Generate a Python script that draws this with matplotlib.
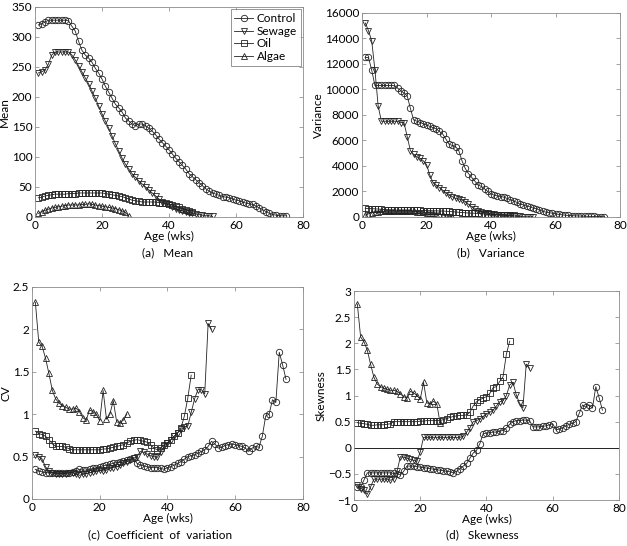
import matplotlib
matplotlib.use('Agg')
import matplotlib.pyplot as plt
import numpy as np

plt.rcParams['font.family'] = ['Lato', 'DejaVu Sans']
plt.rcParams['font.size'] = 8.5

# ages (weeks) for each group
age_control = list(range(1, 76))
age_sewage = list(range(1, 54))
age_oil = list(range(1, 48))
age_algae = list(range(1, 29))
age_algae_skew = list(range(1, 27))

mean_control = [320, 322, 325, 328, 328, 328, 328, 328, 328, 327,
                318, 310, 293, 278, 270, 265, 258, 248, 240, 230,
                218, 208, 198, 188, 182, 175, 165, 160, 155, 152,
                155, 155, 152, 148, 143, 137, 130, 124, 118, 112,
                105, 98, 92, 86, 80, 72, 67, 62, 57, 52,
                47, 43, 40, 38, 36, 34, 33, 32, 30, 28,
                27, 25, 23, 22, 21, 18, 15, 12, 9, 6,
                4, 3, 2, 2, 2]
mean_sewage = [240, 242, 245, 255, 270, 275, 275, 275, 275, 275,
               270, 262, 252, 242, 232, 222, 210, 198, 185, 172,
               160, 148, 135, 122, 110, 98, 88, 80, 72, 66,
               60, 55, 50, 45, 40, 35, 30, 25, 22, 20,
               17, 14, 12, 10, 8, 7, 6, 5, 4, 3,
               2, 2, 1]
mean_oil = [32, 33, 35, 36, 37, 38, 38, 38, 38, 39,
            39, 39, 40, 40, 40, 40, 40, 40, 40, 40,
            39, 38, 37, 36, 35, 34, 32, 30, 28, 27,
            26, 25, 25, 25, 25, 25, 24, 24, 23, 22,
            20, 18, 16, 14, 12, 10, 8]
mean_algae = [6, 9, 11, 13, 15, 16, 17, 18, 19, 20,
              20, 20, 20, 21, 21, 22, 21, 20, 19, 18,
              17, 16, 15, 14, 12, 10, 8, 1]

var_control = [12500, 12500, 11500, 10300, 10300, 10300, 10300, 10300, 10300, 10300,
               10100, 9900, 9700, 9500, 8500, 7600, 7500, 7400, 7300, 7200,
               7100, 7000, 6900, 6700, 6500, 6100, 5700, 5600, 5500, 5200,
               4400, 3800, 3400, 3100, 2800, 2500, 2400, 2200, 2000, 1800,
               1700, 1650, 1600, 1550, 1450, 1350, 1250, 1150, 1000, 950,
               850, 800, 700, 650, 550, 450, 380, 330, 300, 250,
               200, 170, 140, 120, 100, 90, 80, 70, 60, 50,
               45, 40, 35, 30, 30]
var_sewage = [15200, 14600, 13800, 11500, 8700, 7500, 7500, 7500, 7500, 7500,
              7500, 7400, 7400, 6300, 5200, 4900, 4700, 4600, 4400, 4100,
              3300, 2700, 2500, 2300, 2100, 1900, 1700, 1600, 1450, 1400,
              1350, 1200, 1000, 800, 600, 450, 400, 350, 300, 250,
              200, 180, 160, 140, 120, 100, 80, 60, 40, 30,
              20, 10, 5]
var_oil = [680, 660, 650, 640, 620, 600, 580, 560, 550, 540,
           530, 525, 520, 520, 520, 520, 515, 510, 505, 500,
           495, 490, 480, 470, 460, 450, 430, 410, 390, 370,
           350, 330, 310, 300, 290, 280, 260, 240, 220, 200,
           190, 180, 170, 160, 150, 140, 130]
var_algae = [150, 250, 320, 380, 420, 440, 450, 460, 460, 460,
             460, 460, 460, 460, 450, 440, 420, 400, 380, 350,
             320, 290, 250, 200, 150, 100, 60, 1]

cv_control = [0.35, 0.33, 0.32, 0.31, 0.31, 0.31, 0.31, 0.31, 0.31, 0.31,
              0.31, 0.32, 0.33, 0.35, 0.34, 0.34, 0.35, 0.36, 0.37, 0.38,
              0.39, 0.40, 0.41, 0.42, 0.43, 0.44, 0.45, 0.46, 0.47, 0.48,
              0.42, 0.40, 0.39, 0.38, 0.37, 0.37, 0.37, 0.36, 0.35, 0.37,
              0.38, 0.40, 0.42, 0.44, 0.47, 0.50, 0.51, 0.52, 0.54, 0.56,
              0.58, 0.62, 0.68, 0.65, 0.60, 0.61, 0.63, 0.64, 0.65, 0.64,
              0.63, 0.62, 0.60, 0.56, 0.60, 0.62, 0.61, 0.74, 0.98, 1.00,
              1.17, 1.14, 1.73, 1.58, 1.41]
cv_sewage = [0.52, 0.50, 0.47, 0.38, 0.33, 0.31, 0.30, 0.30, 0.30, 0.30,
             0.31, 0.31, 0.30, 0.28, 0.29, 0.30, 0.31, 0.32, 0.33, 0.34,
             0.33, 0.34, 0.36, 0.37, 0.38, 0.40, 0.42, 0.44, 0.46, 0.48,
             0.50, 0.56, 0.55, 0.53, 0.51, 0.50, 0.49, 0.55, 0.62, 0.66,
             0.70, 0.74, 0.78, 0.82, 0.85, 0.86, 1.02, 1.18, 1.29, 1.29,
             1.24, 2.07, 2.00]
cv_oil = [0.80, 0.77, 0.76, 0.74, 0.70, 0.65, 0.62, 0.62, 0.62, 0.61,
          0.59, 0.58, 0.58, 0.58, 0.58, 0.58, 0.58, 0.58, 0.58, 0.58,
          0.59, 0.59, 0.60, 0.61, 0.62, 0.63, 0.64, 0.66, 0.68, 0.69,
          0.70, 0.69, 0.68, 0.67, 0.64, 0.60, 0.58, 0.60, 0.64, 0.66,
          0.70, 0.74, 0.78, 0.84, 0.98, 1.19, 1.46]
cv_algae = [2.32, 1.85, 1.80, 1.66, 1.48, 1.28, 1.18, 1.13, 1.10, 1.08,
            1.06, 1.06, 1.07, 1.03, 0.96, 0.93, 1.05, 1.03, 1.00, 0.92,
            1.28, 0.94, 1.00, 1.16, 0.91, 0.90, 0.93, 1.00]

skew_control = [-0.75, -0.75, -0.62, -0.48, -0.48, -0.48, -0.48, -0.48, -0.48, -0.48,
                -0.48, -0.49, -0.50, -0.52, -0.45, -0.35, -0.35, -0.35, -0.36, -0.37,
                -0.38, -0.39, -0.40, -0.41, -0.42, -0.43, -0.44, -0.45, -0.46, -0.48,
                -0.45, -0.40, -0.35, -0.30, -0.20, -0.10, -0.05, 0.08, 0.27, 0.28,
                0.29, 0.30, 0.30, 0.32, 0.33, 0.38, 0.45, 0.50, 0.52, 0.52,
                0.53, 0.53, 0.52, 0.40, 0.40, 0.40, 0.41, 0.42, 0.44, 0.46,
                0.34, 0.36, 0.38, 0.42, 0.45, 0.47, 0.50, 0.66, 0.82, 0.78,
                0.82, 0.76, 1.17, 0.96, 0.72]
skew_sewage = [-0.72, -0.78, -0.80, -0.89, -0.75, -0.60, -0.60, -0.60, -0.60, -0.60,
               -0.62, -0.60, -0.45, -0.17, -0.18, -0.20, -0.22, -0.24, -0.26, -0.08,
               0.20, 0.20, 0.20, 0.20, 0.20, 0.20, 0.20, 0.20, 0.20, 0.20,
               0.20, 0.20, 0.22, 0.30, 0.38, 0.50, 0.52, 0.55, 0.60, 0.65,
               0.68, 0.72, 0.80, 0.88, 0.90, 1.00, 1.20, 1.25, 1.01, 0.85,
               0.76, 1.60, 1.52]
skew_oil = [0.48, 0.47, 0.46, 0.45, 0.43, 0.43, 0.44, 0.44, 0.44, 0.45,
            0.46, 0.50, 0.50, 0.50, 0.50, 0.50, 0.50, 0.50, 0.50, 0.51,
            0.51, 0.52, 0.52, 0.52, 0.52, 0.52, 0.54, 0.56, 0.58, 0.60,
            0.61, 0.62, 0.62, 0.63, 0.68, 0.80, 0.88, 0.92, 0.95, 0.98,
            1.04, 1.15, 1.17, 1.27, 1.36, 1.79, 2.04]
skew_algae = [2.75, 2.12, 2.03, 1.87, 1.60, 1.35, 1.22, 1.17, 1.14, 1.12,
              1.10, 1.10, 1.08, 1.03, 0.98, 0.95, 1.08, 1.05, 1.00, 0.93,
              1.25, 0.86, 0.84, 0.89, 0.84, 0.47]

line_kw = dict(color='#222222', linewidth=0.6, markersize=4.6,
               markerfacecolor='none', markeredgewidth=0.6)


def style_axes(ax):
    ax.tick_params(direction='in', length=3, width=0.5, top=True, right=True,
                   color='0.5', labelsize=8.5, pad=2)
    for s in ax.spines.values():
        s.set_color('0.55')
        s.set_linewidth(0.6)
    ax.set_xlim(0, 80)
    ax.set_xticks([0, 20, 40, 60, 80])
    ax.set_xlabel('Age (wks)', labelpad=0)


def plot_groups(ax, data):
    for x, y, m, lab in data:
        ax.plot(x, y, marker=m, label=lab, **line_kw)


fig = plt.figure(figsize=(6.27, 5.46), dpi=100)

ax_a = fig.add_axes([0.0558, 0.6026, 0.4274, 0.3846])
ax_b = fig.add_axes([0.5774, 0.6026, 0.4115, 0.3741])
ax_c = fig.add_axes([0.0510, 0.0861, 0.4322, 0.3883])
ax_d = fig.add_axes([0.5646, 0.0842, 0.4226, 0.3828])

# (a) mean
plot_groups(ax_a, [(age_control, mean_control, 'o', 'Control'),
                   (age_sewage, mean_sewage, 'v', 'Sewage'),
                   (age_oil, mean_oil, 's', 'Oil'),
                   (age_algae, mean_algae, '^', 'Algae')])
style_axes(ax_a)
ax_a.set_ylim(0, 350)
ax_a.set_yticks(range(0, 351, 50))
ax_a.set_ylabel('Mean', labelpad=1)
leg = ax_a.legend(loc='upper right', handlelength=1.6, handletextpad=0.3,
                  borderpad=0.3, labelspacing=0.15, fancybox=False,
                  fontsize=8.5, borderaxespad=0.2)
leg.get_frame().set_edgecolor('0.4')
leg.get_frame().set_linewidth(0.6)

# (b) variance
plot_groups(ax_b, [(age_control, var_control, 'o', 'Control'),
                   (age_sewage, var_sewage, 'v', 'Sewage'),
                   (age_oil, var_oil, 's', 'Oil'),
                   (age_algae, var_algae, '^', 'Algae')])
style_axes(ax_b)
ax_b.set_ylim(0, 16000)
ax_b.set_yticks(range(0, 16001, 2000))
ax_b.set_ylabel('Variance', labelpad=1)

# (c) coefficient of variation
plot_groups(ax_c, [(age_control, cv_control, 'o', 'Control'),
                   (age_sewage, cv_sewage, 'v', 'Sewage'),
                   (age_oil, cv_oil, 's', 'Oil'),
                   (age_algae, cv_algae, '^', 'Algae')])
style_axes(ax_c)
ax_c.set_ylim(0, 2.5)
ax_c.set_yticks([0, 0.5, 1, 1.5, 2, 2.5])
ax_c.set_yticklabels(['0', '0.5', '1', '1.5', '2', '2.5'])
ax_c.set_ylabel('CV', labelpad=1)

# (d) skewness
plot_groups(ax_d, [(age_control, skew_control, 'o', 'Control'),
                   (age_sewage, skew_sewage, 'v', 'Sewage'),
                   (age_oil, skew_oil, 's', 'Oil'),
                   (age_algae_skew, skew_algae, '^', 'Algae')])
style_axes(ax_d)
ax_d.axhline(0, color='#222222', linewidth=0.7)
ax_d.set_ylim(-1, 3)
ax_d.set_yticks([-1, -0.5, 0, 0.5, 1, 1.5, 2, 2.5, 3])
ax_d.set_yticklabels(['\u22121', '\u22120.5', '0', '0.5', '1', '1.5', '2', '2.5', '3'])
ax_d.set_ylabel('Skewness', labelpad=1)

fig.text(0.268, 1 - 253 / 546, '(a)   Mean', ha='center', va='center', fontsize=8.5)
fig.text(0.782, 1 - 253 / 546, '(b)   Variance', ha='center', va='center', fontsize=8.5)
fig.text(0.255, 1 - 535 / 546, '(c)  Coefficient  of  variation', ha='center', va='center', fontsize=8.5)
fig.text(0.770, 1 - 535 / 546, '(d)   Skewness', ha='center', va='center', fontsize=8.5)

fig.savefig('out.png', dpi=100)
